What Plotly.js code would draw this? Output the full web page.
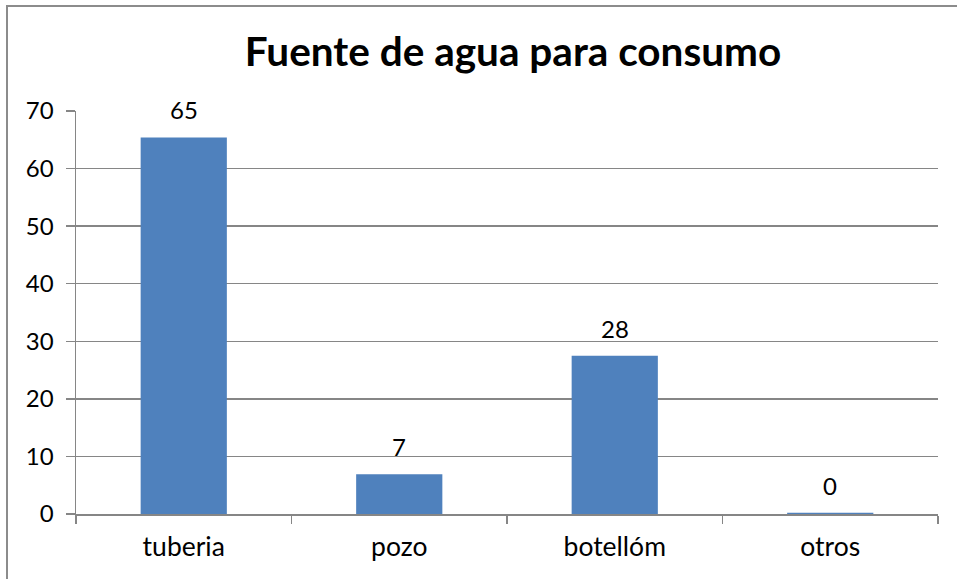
<!DOCTYPE html>
<html>
<head>
<meta charset="utf-8">
<script src="https://cdn.plot.ly/plotly-3.0.1.min.js"></script>
<style>
html,body{margin:0;padding:0;background:#fff;}
#wrap{position:relative;width:957px;height:579px;}
#chart{width:957px;height:579px;}
#border{position:absolute;left:6px;top:5px;right:-5px;bottom:-5px;border-left:2px solid #8c8c8c;border-top:2px solid #8c8c8c;pointer-events:none;}
</style>
</head>
<body>
<div id="wrap"><div id="chart"></div><div id="border"></div></div>
<script>
const categories = ["tuberia", "pozo", "botellóm", "otros"];
const values = [65.4, 6.9, 27.5, 0.2];
const yTicks = [0, 10, 20, 30, 40, 50, 60, 70];
const chartTitle = "Fuente de agua para consumo";

const FONT = "Lato, Carlito, Calibri, sans-serif";
const grey = "#868686";

const trace = {
  type: "bar",
  x: categories,
  y: values,
  marker: {color: "#4F81BD", line: {width: 0}},
  hoverinfo: "none"
};

const annotations = categories.map((c, i) => ({
  x: c, y: values[i], xref: "x", yref: "y",
  text: String(Math.round(values[i])),
  showarrow: false, yanchor: "bottom", yshift: 11,
  font: {family: FONT, size: 24, color: "#000"}
}));

const layout = {
  width: 957, height: 579,
  margin: {l: 76, r: 19, t: 111, b: 65},
  paper_bgcolor: "#fff", plot_bgcolor: "#fff",
  bargap: 0.6,
  showlegend: false,
  font: {family: FONT, color: "#000"},
  title: {
    text: "<b>" + chartTitle + "</b>",
    font: {family: FONT, size: 40.5, color: "#000"},
    x: 0.507, xanchor: "center", xref: "paper",
    y: 1 - 52/579, yanchor: "middle", yref: "container"
  },
  xaxis: {
    type: "category",
    tickson: "boundaries",
    ticks: "outside", ticklen: 8, tickwidth: 1.5, tickcolor: grey,
    showline: true, linecolor: grey, linewidth: 1.5,
    showgrid: false, zeroline: false,
    tickfont: {family: FONT, size: 26.5, color: "#000"},
    ticklabelstandoff: 9
  },
  yaxis: {
    range: [0, 70],
    tickvals: yTicks,
    ticks: "outside", ticklen: 9, tickwidth: 1.5, tickcolor: grey,
    showline: true, linecolor: grey, linewidth: 1.5,
    showgrid: true, gridcolor: grey, gridwidth: 1.5,
    zeroline: false,
    tickfont: {family: FONT, size: 24, color: "#000"},
    ticklabelstandoff: 7
  },
  annotations: annotations
};

Plotly.newPlot("chart", [trace], layout, {displayModeBar: false, staticPlot: true});
</script>
</body>
</html>
